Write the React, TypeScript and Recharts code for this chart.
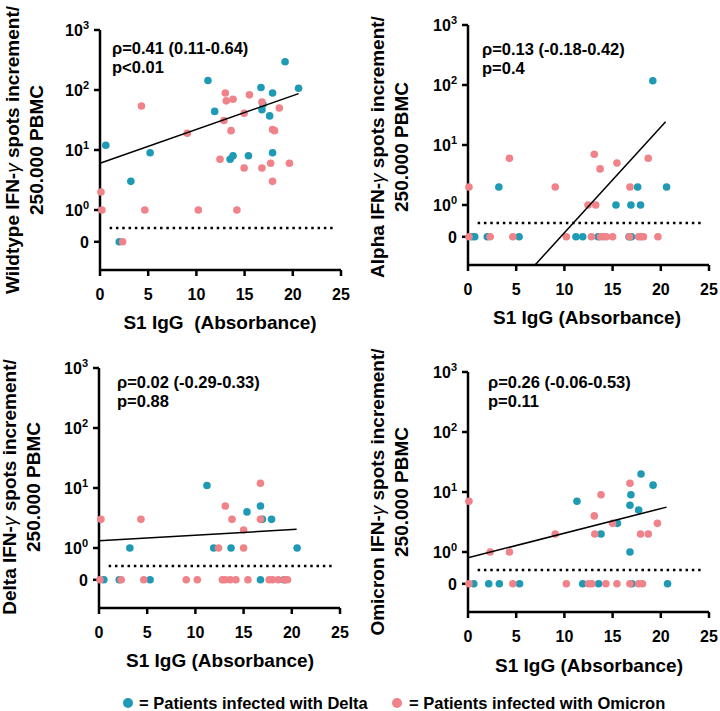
import React from 'react';
import { ScatterChart, Scatter, XAxis, YAxis, ReferenceLine } from 'recharts';

const BLUE = '#1f9ab4';
const PINK = '#f0828a';
const FONT = '"Liberation Sans", Arial, sans-serif';

// axis set-up
const xTicks = [0, 5, 10, 15, 20, 25];
const ZERO_POS = -0.53; // where a value of 0 sits on the split log axis
const yTicks = [ZERO_POS, 0, 1, 2, 3];
const cutoff = 0.5;
const cutoffRange = [1, 24.5];

// [S1 IgG absorbance, IFN-γ spots increment]
const wildtypeDelta = [[0.6, 12], [2.0, 0], [3.2, 3], [5.2, 9], [11.2, 144], [11.9, 44], [13.5, 7], [13.8, 8], [15.4, 8], [16.7, 110], [16.9, 58], [16.8, 47], [17.9, 9], [17.6, 37], [17.9, 89], [19.2, 296], [20.6, 107]];
const wildtypeOmicron = [[0.1, 2], [0.2, 1], [2.35, 0], [4.3, 54], [4.65, 1], [9.05, 19], [10.2, 1], [12.45, 7], [12.85, 31], [13.0, 89], [13.1, 66], [13.8, 70], [13.6, 21], [14.2, 1], [14.95, 41], [14.95, 5], [15.5, 83], [16.8, 63], [16.8, 5], [17.7, 6], [17.9, 3], [17.9, 22], [18.1, 21], [18.6, 50], [19.65, 6]];
const wildtypeFit = [[0, 6.0], [20.6, 87]];

const alphaDelta = [[0.4, 0], [0.7, 0], [2.0, 0], [3.2, 2], [5.3, 0], [11.2, 0], [11.9, 0], [13.5, 0], [15.35, 1], [16.7, 0], [16.9, 1], [16.95, 0], [17.6, 2], [17.9, 1], [19.17, 118], [20.6, 2]];
const alphaOmicron = [[0.1, 2], [0.1, 0], [2.3, 0], [4.3, 6], [4.65, 0], [9.05, 2], [10.2, 0], [12.45, 1], [12.8, 0], [13.1, 7], [13.25, 1], [13.7, 4], [13.75, 0], [14.05, 0], [14.35, 0], [15.0, 0], [15.45, 5], [16.8, 2], [16.75, 0], [17.7, 0], [17.95, 0], [18.2, 0], [18.7, 6], [19.7, 0]];
const alphaFit = [[6.95, 0.1], [20.5, 24.5]];

const deltaDelta = [[0.5, 0], [2.1, 0], [3.2, 1], [5.3, 0], [11.2, 11], [11.9, 1], [13.7, 1], [15.35, 4], [16.75, 5], [16.75, 0], [16.95, 3], [17.9, 3], [19.2, 0], [20.55, 1]];
const deltaOmicron = [[0.2, 3], [0.1, 0], [2.3, 0], [4.35, 3], [4.65, 0], [9.05, 0], [10.2, 0], [12.4, 1], [12.8, 0], [13.1, 0], [13.6, 0], [14.2, 0], [13.1, 5], [13.8, 3], [15.0, 2], [15.0, 1], [15.45, 0], [16.75, 12], [16.75, 3], [17.65, 0], [18.0, 0], [18.6, 0], [19.3, 0], [19.55, 0]];
const deltaFit = [[0, 1.32], [20.5, 2.05]];

const omicronDelta = [[0.6, 0], [2.15, 0], [3.25, 0], [5.35, 0], [11.3, 7], [11.9, 0], [13.55, 0], [13.8, 2], [15.5, 3], [16.8, 1], [16.8, 6], [16.9, 9], [17.0, 0], [17.7, 5], [17.95, 20], [19.2, 13], [20.7, 0]];
const omicronOmicron = [[0.1, 7], [0.1, 0], [2.3, 1], [4.3, 1], [4.65, 0], [9.05, 2], [10.2, 0], [12.5, 0], [12.85, 0], [13.1, 4], [13.15, 2], [13.8, 9], [14.3, 0], [15.0, 3], [15.45, 0], [16.8, 14], [16.8, 0], [17.7, 0], [18.1, 0], [17.9, 2], [18.7, 2], [19.65, 3]];
const omicronFit = [[0, 0.8], [20.6, 5.6]];

const variants = ['Wildtype', 'Alpha', 'Delta', 'Omicron'];
const stats = [
  ['ρ=0.41 (0.11-0.64)', 'p<0.01'],
  ['ρ=0.13 (-0.18-0.42)', 'p=0.4'],
  ['ρ=0.02 (-0.29-0.33)', 'p=0.88'],
  ['ρ=0.26 (-0.06-0.53)', 'p=0.11'],
];
const xTitles = ['S1 IgG  (Absorbance)', 'S1 IgG (Absorbance)', 'S1 IgG (Absorbance)', 'S1 IgG (Absorbance)'];
const legendLabels = ['= Patients infected with Delta', '= Patients infected with Omicron'];

const toAxis = (v: number) => (v === 0 ? ZERO_POS : Math.log10(v));
const toPoints = (rows: number[][]) => rows.map(([x, v]) => ({ x, y: toAxis(v) }));

const panels = [
  { delta: wildtypeDelta, omicron: wildtypeOmicron, fit: wildtypeFit },
  { delta: alphaDelta, omicron: alphaOmicron, fit: alphaFit },
  { delta: deltaDelta, omicron: deltaOmicron, fit: deltaFit },
  { delta: omicronDelta, omicron: omicronOmicron, fit: omicronFit },
];

// where each panel sits on the page
const layout = [
  { left: 100, top: 30, titleX: 25, titleY: 150, statX: 112, statY: 48, xTitleX: 220, xTitleY: 322 },
  { left: 468, top: 25, titleX: 390, titleY: 147, statX: 482, statY: 49, xTitleX: 587, xTitleY: 317 },
  { left: 99, top: 368, titleX: 22, titleY: 487, statX: 117, statY: 382, xTitleX: 220, xTitleY: 660 },
  { left: 468, top: 372, titleX: 390, titleY: 492, statX: 488, statY: 382, xTitleX: 589, xTitleY: 665 },
];

const PLOT_W = 241;
const PLOT_H = 240;

const YTick = (props: any) => {
  const { x, y, payload } = props;
  const v = payload.value;
  const common = { x, y, dy: '0.38em', textAnchor: 'end' as const, fill: '#000', fontSize: 16, fontWeight: 700, fontFamily: FONT };
  if (v === ZERO_POS) return <text {...common}>0</text>;
  return (
    <text {...common}>
      10<tspan dy={-7} fontSize={11}>{v}</tspan>
    </text>
  );
};

const Dot = (color: string) => (props: any) => <circle cx={props.cx} cy={props.cy} r={3.8} fill={color} />;

const Panel = ({ idx }: { idx: number }) => {
  const p = panels[idx];
  const l = layout[idx];
  const axisStyle = { stroke: '#000', strokeWidth: 2.5 };
  return (
    <div style={{ position: 'absolute', left: l.left - 70, top: l.top - 10 }}>
      <ScatterChart width={PLOT_W + 80} height={PLOT_H + 50} margin={{ top: 10, right: 10, bottom: 0, left: 10 }}>
        <XAxis
          type="number"
          dataKey="x"
          domain={[0, 25]}
          ticks={xTicks}
          height={40}
          axisLine={axisStyle}
          tickLine={axisStyle}
          tickSize={6}
          tickMargin={13}
          tick={{ fill: '#000', fontSize: 16, fontWeight: 700, fontFamily: FONT }}
        />
        <YAxis
          type="number"
          dataKey="y"
          domain={[-1, 3]}
          ticks={yTicks}
          allowDataOverflow
          width={60}
          axisLine={axisStyle}
          tickLine={axisStyle}
          tickSize={6}
          tickMargin={5}
          tick={<YTick />}
        />
        <ReferenceLine
          segment={[
            { x: cutoffRange[0], y: Math.log10(cutoff) },
            { x: cutoffRange[1], y: Math.log10(cutoff) },
          ]}
          stroke="#000"
          strokeWidth={2.5}
          strokeDasharray="2.5 3.8"
        />
        <Scatter data={toPoints(p.delta)} shape={Dot(BLUE)} isAnimationActive={false} />
        <Scatter data={toPoints(p.omicron)} shape={Dot(PINK)} isAnimationActive={false} />
        <Scatter
          data={toPoints(p.fit)}
          shape={() => <g />}
          line={{ stroke: '#000', strokeWidth: 1.5 }}
          isAnimationActive={false}
        />
      </ScatterChart>
    </div>
  );
};

const textBase: React.CSSProperties = {
  position: 'absolute',
  fontFamily: FONT,
  fontWeight: 700,
  color: '#000',
  whiteSpace: 'pre',
};

export default function App() {
  return (
    <div style={{ position: 'absolute', left: 0, top: 0, width: 720, height: 711, background: '#fff' }}>
      {layout.map((l, i) => (
        <React.Fragment key={i}>
          <Panel idx={i} />
          <div
            style={{
              ...textBase,
              left: l.titleX,
              top: l.titleY,
              fontSize: 19,
              lineHeight: '24px',
              textAlign: 'center',
              transform: 'translate(-50%, -50%) rotate(-90deg)',
            }}
          >
            {variants[i]} IFN-<span style={{ fontStyle: 'italic', fontWeight: 400 }}>γ</span> spots increment/
            {'\n'}250.000 PBMC
          </div>
          <div style={{ ...textBase, left: l.statX, top: l.statY - 9.5, fontSize: 16.5, lineHeight: '19px' }}>
            {stats[i][0]}
            {'\n'}
            {stats[i][1]}
          </div>
          <div
            style={{
              ...textBase,
              left: l.xTitleX,
              top: l.xTitleY,
              fontSize: 19,
              lineHeight: 1,
              transform: 'translate(-50%, -50%)',
            }}
          >
            {xTitles[i]}
          </div>
        </React.Fragment>
      ))}
      {[BLUE, PINK].map((c, i) => (
        <React.Fragment key={c}>
          <div
            style={{
              position: 'absolute',
              left: (i === 0 ? 128 : 397) - 5,
              top: 703 - 5,
              width: 10,
              height: 10,
              borderRadius: 5,
              background: c,
            }}
          />
          <div
            style={{
              ...textBase,
              left: i === 0 ? 139 : 409,
              top: 696,
              fontSize: 16.5,
              lineHeight: '14px',
            }}
          >
            {legendLabels[i]}
          </div>
        </React.Fragment>
      ))}
    </div>
  );
}
